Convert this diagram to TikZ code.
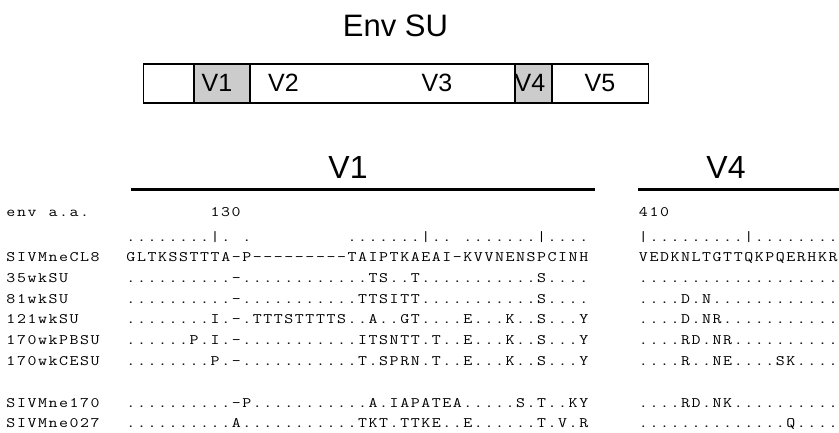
\documentclass[tikz,border=0pt]{standalone}
\usepackage{fontspec}
\newfontfamily\headfont{Liberation Sans}

% fixed-pitch alignment cells: one box per residue, '*' leaves a blank cell
\newlength\seqpitch
\setlength\seqpitch{10.53bp}
\newcommand\seqcell[1]{\makebox[\seqpitch]{\ifx*#1\relax\else\scalebox{1.2}[1]{#1}\fi}}
\def\seqloop#1{\ifx\relax#1\else\seqcell{#1}\expandafter\seqloop\fi}
\newcommand\seq[1]{\seqloop#1\relax}

\tikzset{
  headline/.style={font=\headfont\fontsize{31bp}{34bp}\selectfont, anchor=base, inner sep=0pt},
  regiontitle/.style={font=\headfont\fontsize{32bp}{34bp}\selectfont, anchor=base, inner sep=0pt},
  cellname/.style={font=\headfont\fontsize{25bp}{27bp}\selectfont, anchor=base, inner sep=0pt},
  seqrow/.style={font=\ttfamily\fontsize{14.5bp}{16bp}\selectfont, anchor=base west, inner sep=0pt},
  boxline/.style={line width=1.3bp},
  stipple/.style={fill=black!20},
  regionrule/.style={line width=2.2bp},
}

\begin{document}
\begin{tikzpicture}[x=1bp, y=-1bp]
\useasboundingbox (0,0) rectangle (839,432);

% ---- Env SU domain map ----
\node[headline] (title) at (395.5,36.2) {Env SU};

\fill[stipple] (194,64) rectangle (250,103);
\fill[stipple] (515,64) rectangle (552,103);
\draw[boxline] (143.4,64) rectangle (648.6,103);
\draw[boxline] (194,64) -- (194,103);
\draw[boxline] (250,64) -- (250,103);
\draw[boxline] (515,64) -- (515,103);
\draw[boxline] (552,64) -- (552,103);

\node[cellname] (cV1) at (217,91) {V1};
\node[cellname] (cV2) at (283.5,91) {V2};
\node[cellname] (cV3) at (437,91) {V3};
\node[cellname] (cV4) at (530,91) {V4};
\node[cellname] (cV5) at (600,91) {V5};

% ---- region headings ----
\node[regiontitle] (hV1) at (348,178) {V1};
\node[regiontitle] (hV4) at (726,178) {V4};
\draw[regionrule] (131,189.5) -- (595,189.5);
\draw[regionrule] (638,189.5) -- (839,189.5);

% ---- numbering ----
\node[seqrow] (lenv) at (5.5,216.5) {\seq{env*a.a.}};
\node[seqrow] (n130) at (209.7,216.5) {\seq{130}};
\node[seqrow] (n410) at (638,216.5) {\seq{410}};
\node[seqrow] (rulA) at (125.5,241) {\seq{........|.*.*********.......|..*.......|....}};
\node[seqrow] (rulB) at (638,241) {\seq{|.........|........}};

% ---- sequence names ----
\node[seqrow] (l1) at (5.5,261.5) {\seq{SIVMneCL8}};
\node[seqrow] (l2) at (5.5,282.3) {\seq{35wkSU}};
\node[seqrow] (l3) at (5.5,303.1) {\seq{81wkSU}};
\node[seqrow] (l4) at (5.5,323.9) {\seq{121wkSU}};
\node[seqrow] (l5) at (5.5,344.7) {\seq{170wkPBSU}};
\node[seqrow] (l6) at (5.5,365.5) {\seq{170wkCESU}};
\node[seqrow] (l7) at (5.5,407.1) {\seq{SIVMne170}};
\node[seqrow] (l8) at (5.5,427.9) {\seq{SIVMne027}};

% ---- V1 alignment ----
\node[seqrow] (a1) at (125.5,261.5) {\seq{GLTKSSTTTA-P---------TAIPTKAEAI-KVVNENSPCINH}};
\node[seqrow] (a2) at (125.5,282.3) {\seq{..........-............TS..T...........S....}};
\node[seqrow] (a3) at (125.5,303.1) {\seq{..........-...........TTSITT...........S....}};
\node[seqrow] (a4) at (125.5,323.9) {\seq{........I.-.TTTSTTTTS..A..GT....E...K..S...Y}};
\node[seqrow] (a5) at (125.5,344.7) {\seq{......P.I.-...........ITSNTT.T..E...K..S...Y}};
\node[seqrow] (a6) at (125.5,365.5) {\seq{........P.-...........T.SPRN.T..E...K..S...Y}};
\node[seqrow] (a7) at (125.5,407.1) {\seq{..........-P...........A.IAPATEA.....S.T..KY}};
\node[seqrow] (a8) at (125.5,427.9) {\seq{..........A...........TKT.TTKE..E......T.V.R}};

% ---- V4 alignment ----
\node[seqrow] (b1) at (638,261.5) {\seq{VEDKNLTGTTQKPQERHKR}};
\node[seqrow] (b2) at (638,282.3) {\seq{...................}};
\node[seqrow] (b3) at (638,303.1) {\seq{....D.N............}};
\node[seqrow] (b4) at (638,323.9) {\seq{....D.NR...........}};
\node[seqrow] (b5) at (638,344.7) {\seq{....RD.NR..........}};
\node[seqrow] (b6) at (638,365.5) {\seq{....R..NE....SK....}};
\node[seqrow] (b7) at (638,407.1) {\seq{....RD.NK..........}};
\node[seqrow] (b8) at (638,427.9) {\seq{..............Q....}};
\end{tikzpicture}
\end{document}
